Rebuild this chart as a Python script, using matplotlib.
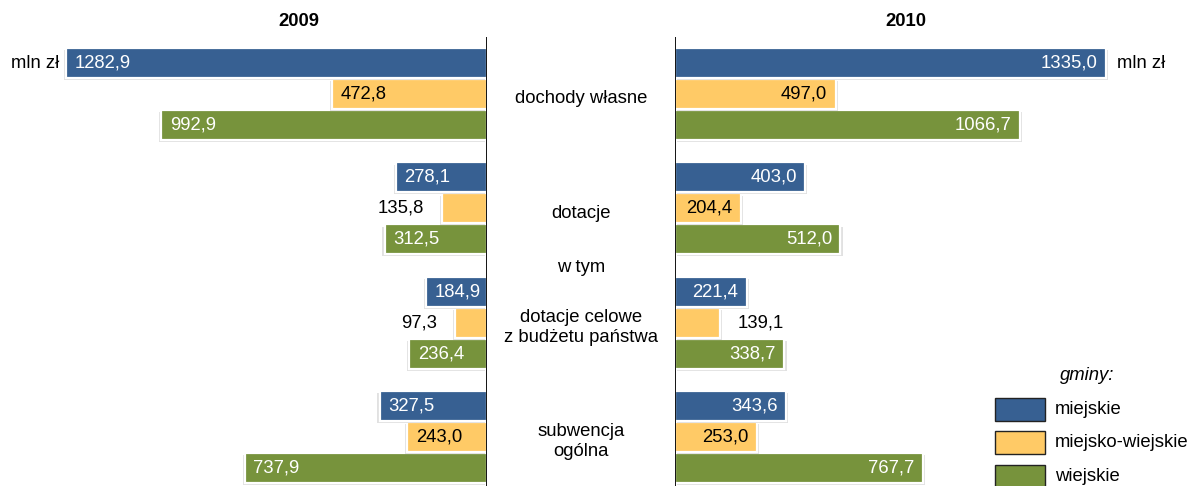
import matplotlib
matplotlib.use("Agg")
import matplotlib.pyplot as plt
import matplotlib.patheffects as pe
import matplotlib.transforms as mtransforms
from matplotlib.patches import Rectangle

plt.rcParams['font.family'] = ['Liberation Sans', 'DejaVu Sans']

# ---- data ----
categories = ["dochody własne", "dotacje", "dotacje celowe\nz budżetu państwa", "subwencja\nogólna"]
subnote = "w tym"
years = ["2009", "2010"]
series_names = ["miejskie", "miejsko-wiejskie", "wiejskie"]
miejskie_2009 = [1282.9, 278.1, 184.9, 327.5]
miejsko_wiejskie_2009 = [472.8, 135.8, 97.3, 243.0]
wiejskie_2009 = [992.9, 312.5, 236.4, 737.9]
miejskie_2010 = [1335.0, 403.0, 221.4, 343.6]
miejsko_wiejskie_2010 = [497.0, 204.4, 139.1, 253.0]
wiejskie_2010 = [1066.7, 512.0, 338.7, 767.7]
unit = "mln zł"
legend_title = "gminy:"

colors = ['#376092', '#FFCA66', '#77933C']
text_colors = ['white', 'black', 'white']

W, H = 1191, 486
fig = plt.figure(figsize=(W / 100, H / 100), dpi=100)

# layout in pixels
top_px = 37
axL_right = 487
axR_left = 675
scaleL = 0.328  # px per unit
scaleR = 0.323

axL = fig.add_axes([0, 0, axL_right / W, (H - top_px) / H])
axR = fig.add_axes([axR_left / W, 0, (W - axR_left) / W, (H - top_px) / H])

G = 3.69      # group pitch in bar units
bh = 0.96
ylim = (12.65, -1.84)

FS = 13.3

def draw(ax, data, left):
    for k, vals in enumerate(data):
        for i, v in enumerate(vals):
            y = i * G + (k - 1)
            bar = ax.barh(y, v, height=bh, color=colors[k], edgecolor='white',
                          linewidth=1.6, zorder=3 - k * 0.1)[0]
            off = (-1.6, -1.6) if left else (1.6, -1.6)
            bar.set_path_effects([pe.SimplePatchShadow(offset=off, shadow_rgbFace='#777777', alpha=0.22),
                                  pe.Normal()])
            lab = f"{v:.1f}".replace('.', ',')
            if v < 150:
                ax.annotate(lab, (v, y), xytext=(-13, 0) if left else (13, 0),
                            textcoords='offset points', va='center',
                            ha='right' if left else 'left', fontsize=FS, color='black', zorder=5)
            else:
                ax.annotate(lab, (v, y), xytext=(6, 0) if left else (-6, 0),
                            textcoords='offset points', va='center',
                            ha='left' if left else 'right', fontsize=FS,
                            color=text_colors[k], zorder=5)
    ax.axvline(0, color='black', linewidth=1.3, zorder=10)

draw(axL, [miejskie_2009, miejsko_wiejskie_2009, wiejskie_2009], True)
draw(axR, [miejskie_2010, miejsko_wiejskie_2010, wiejskie_2010], False)

axL.set_xlim(axL_right / scaleL, 0)
axR.set_xlim(0, (W - axR_left) / scaleR)
for ax in (axL, axR):
    ax.set_ylim(*ylim)
    ax.set_xticks([])
    ax.set_yticks([])
    ax.patch.set_visible(False)
    for s in ax.spines.values():
        s.set_visible(False)

# year titles
fig.text(299 / W, 1 - 22 / H, years[0], ha='center', va='center', fontsize=FS, fontweight='bold')
fig.text(906 / W, 1 - 22 / H, years[1], ha='center', va='center', fontsize=FS, fontweight='bold')

# category labels in middle
tr = mtransforms.blended_transform_factory(fig.transFigure, axL.transData)
cx = 581 / W
for i, c in enumerate(categories):
    fig.text(cx, i * G + 0.15, c, transform=tr, ha='center', va='center',
             fontsize=FS, linespacing=1.2)
fig.text(cx, 1.5 * G + 0.05, subnote, transform=tr, ha='center', va='center', fontsize=FS)

# unit labels
axL.annotate(unit, (miejskie_2009[0], -1), xytext=(-5, 0), textcoords='offset points',
             ha='right', va='center', fontsize=FS)
axR.annotate(unit, (miejskie_2010[0], -1), xytext=(8, 0), textcoords='offset points',
             ha='left', va='center', fontsize=FS)

# legend
fig.text(1087 / W, 1 - 375 / H, legend_title, ha='center', va='center', fontsize=FS, style='italic')
for k, name in enumerate(series_names):
    yc = 409 + k * 33.5
    fig.patches.append(Rectangle((995 / W, 1 - (yc + 11.5) / H), 50 / W, 23 / H,
                                 transform=fig.transFigure, facecolor=colors[k],
                                 edgecolor='#222222', linewidth=1.0))
    fig.text(1055 / W, 1 - yc / H, name, ha='left', va='center', fontsize=FS)

fig.savefig('out.png', dpi=100)
